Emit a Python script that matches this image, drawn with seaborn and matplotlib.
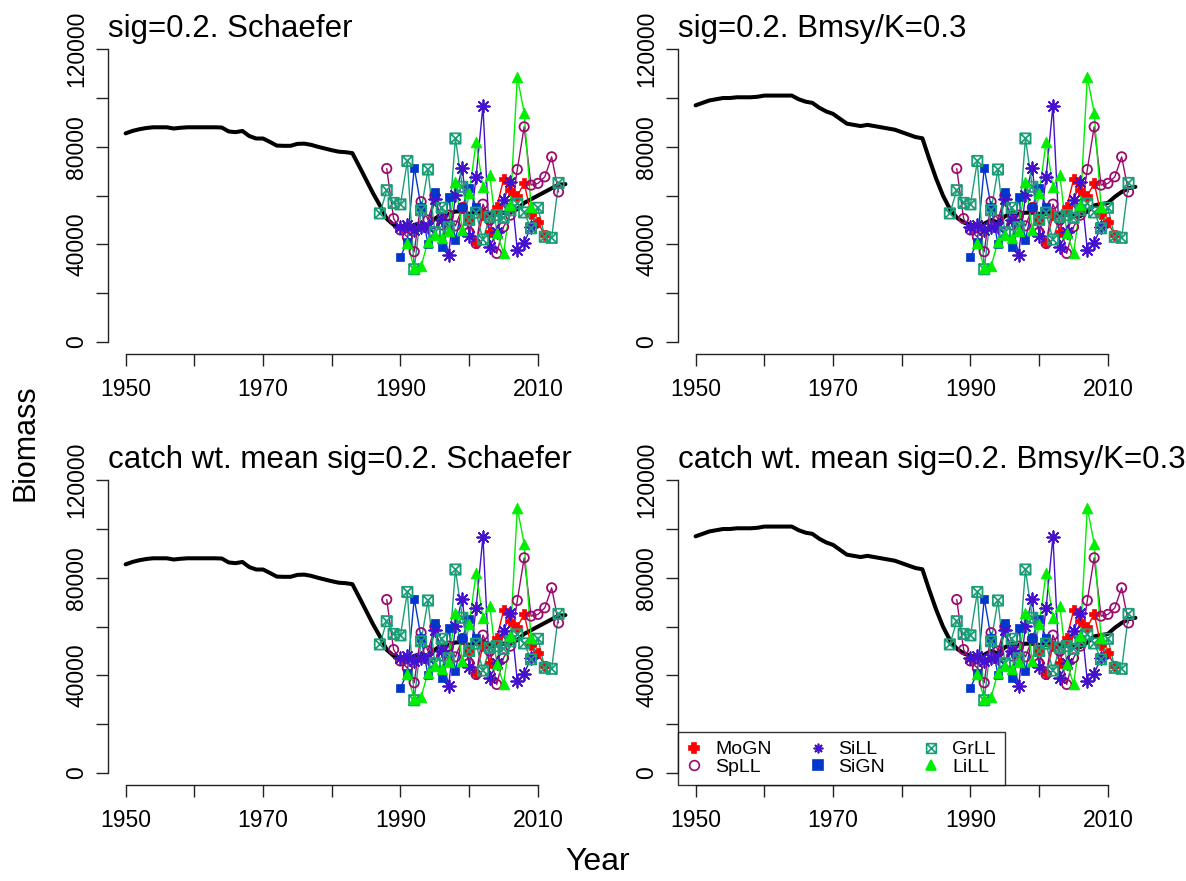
import numpy as np
import pandas as pd
import seaborn as sns
import matplotlib.pyplot as plt
from matplotlib.path import Path
from matplotlib.lines import Line2D

# biomass trajectories (thousands), 1950-2014
years = np.arange(1950, 2015)
biomass_schaefer = [
    85.5, 86.5, 87.2, 87.7, 88.0, 88.0, 88.0, 87.5, 87.8, 88.0,
    88.0, 88.0, 88.0, 88.0, 87.9, 86.3, 86.0, 86.5, 84.4, 83.4,
    83.4, 82.0, 80.5, 80.4, 80.4, 81.2, 81.3, 80.8, 80.0, 79.3,
    78.6, 78.0, 77.8, 77.4, 72.0, 66.5, 61.0, 56.0, 50.5, 48.0,
    47.0, 46.5, 48.0, 48.8, 47.5, 50.5, 52.5, 52.5, 53.5, 53.5,
    52.5, 53.0, 53.8, 52.8, 52.7, 53.0, 53.0, 54.5, 57.0, 58.5,
    60.0, 61.5, 63.0, 64.5, 64.7,
]
biomass_bmsy = [
    97.0, 98.0, 99.0, 99.5, 100.0, 100.0, 100.3, 100.3, 100.3, 100.5,
    101.0, 101.0, 101.0, 101.0, 101.0, 99.5, 98.5, 98.0, 96.0, 94.5,
    93.5, 91.5, 89.5, 89.0, 88.5, 89.0, 88.5, 88.0, 87.5, 87.0,
    86.0, 85.0, 84.0, 83.5, 75.0, 67.0, 60.0, 54.5, 51.0, 49.0,
    48.0, 47.5, 48.5, 50.0, 49.0, 51.5, 53.0, 52.5, 53.0, 53.0,
    52.5, 52.5, 53.0, 52.5, 52.0, 51.8, 51.6, 53.5, 56.0, 56.5,
    57.0, 59.5, 61.5, 63.0, 63.6,
]

# abundance indices (thousands)
mogn_years = list(range(1999, 2012))
mogn = [55.4, 50.0, 40.4, 52.0, 45.2, 55.2, 66.6, 62.5, 59.8, 65.2, 52.4, 49.0, 43.8]

spll_years = list(range(1988, 2014))
spll = [71.1, 50.6, 45.9, 43.0, 37.0, 57.5, 50.0, 60.0, 48.0, 52.0, 47.6, 55.0, 45.0,
        40.4, 56.5, 50.0, 36.3, 47.2, 52.0, 70.7, 88.2, 64.3, 65.0, 67.7, 75.9, 61.5]

sill_years = list(range(1990, 2010))
sill = [47.0, 47.9, 46.0, 47.0, 47.2, 58.8, 50.0, 35.6, 60.2, 71.5, 43.5, 67.7, 96.8,
        39.0, 45.0, 58.1, 65.6, 37.7, 40.7, 47.2]

sign_years = list(range(1990, 2002))
sign = [34.9, 41.1, 71.5, 55.4, 40.1, 61.5, 39.0, 59.3, 42.0, 55.4, 63.2, 55.4]

grll_years = list(range(1987, 2014))
grll = [52.7, 62.2, 57.0, 56.4, 74.2, 29.8, 54.0, 70.7, 45.0, 55.0, 47.0, 83.4, 63.6,
        50.0, 53.0, 42.0, 51.3, 52.0, 50.9, 54.0, 56.8, 53.1, 46.6, 55.0, 43.1, 42.7, 65.2]

lill_years = list(range(1991, 2010))
lill = [40.4, 30.2, 31.1, 41.1, 43.8, 42.5, 45.6, 65.6, 46.1, 60.9, 81.8, 63.6, 68.4,
        44.8, 36.6, 56.1, 108.6, 94.0, 55.4]

index_names = ['MoGN', 'SpLL', 'SiLL', 'SiGN', 'GrLL', 'LiLL']
index_years = [mogn_years, spll_years, sill_years, sign_years, grll_years, lill_years]
index_values = [mogn, spll, sill, sign, grll, lill]
index_colors = ['#FF0000', '#9B0A6E', '#4411CC', '#0036CC', '#1B9E77', '#00EE00']

titles = ['sig=0.2. Schaefer', 'sig=0.2. Bmsy/K=0.3',
          'catch wt. mean sig=0.2. Schaefer', 'catch wt. mean sig=0.2. Bmsy/K=0.3']
panel_biomass = [biomass_schaefer, biomass_bmsy, biomass_schaefer, biomass_bmsy]

#
# index table
#
df = pd.concat([
    pd.DataFrame({'year': y, 'value': np.array(v) * 1000, 'index': n})
    for n, y, v in zip(index_names, index_years, index_values)
])

# square with a cross, like R's pch=7
box_x = Path(
    [(-1, -1), (1, -1), (1, 1), (-1, 1), (-1, -1), (-1, -1), (1, 1), (-1, 1), (1, -1)],
    [Path.MOVETO, Path.LINETO, Path.LINETO, Path.LINETO, Path.CLOSEPOLY,
     Path.MOVETO, Path.LINETO, Path.MOVETO, Path.LINETO],
)
marker_styles = {
    'MoGN': dict(marker='P', s=42, filled=True),
    'SpLL': dict(marker='o', s=45, filled=False),
    'SiLL': dict(marker=(8, 2, 0), s=80, filled=None),
    'SiGN': dict(marker='s', s=40, filled=True),
    'GrLL': dict(marker=box_x, s=55, filled=False),
    'LiLL': dict(marker='^', s=60, filled=True),
}

sns.set_style('ticks')
plt.rcParams['font.family'] = ['Liberation Sans', 'DejaVu Sans']
plt.rcParams['text.color'] = 'black'
plt.rcParams['xtick.color'] = 'black'
plt.rcParams['ytick.color'] = 'black'

W, H = 1186, 881
fig = plt.figure(figsize=(W / 100, H / 100), dpi=100)
lefts = [108, 678, 108, 678]
bottoms = [353.7, 353.7, 784.7, 784.7]

for i in range(4):
    ax = fig.add_axes([lefts[i] / W, 1 - bottoms[i] / H, 475 / W, 316.2 / H])

    sns.lineplot(x=years, y=np.array(panel_biomass[i]) * 1000, ax=ax,
                 color='black', lw=2.9, estimator=None, sort=False)

    for name, color in zip(index_names, index_colors):
        sub = df[df['index'] == name]
        sns.lineplot(data=sub, x='year', y='value', ax=ax, color=color,
                     lw=1.0, estimator=None, sort=False)
        st = marker_styles[name]
        if st['filled'] is True:
            kw = dict(color=color, edgecolor=color, linewidth=0.5)
        elif st['filled'] is False:
            kw = dict(facecolor='none', edgecolor=color, linewidth=1.3)
        else:
            kw = dict(color=color, linewidth=1.3)
        sns.scatterplot(data=sub, x='year', y='value', ax=ax,
                        marker=st['marker'], s=st['s'], zorder=3, **kw)

    ax.set_xlim(1947.44, 2016.56)
    ax.set_ylim(-4800, 124800)
    ax.set_xticks(range(1950, 2011, 10))
    ax.set_xticklabels(['1950', '', '1970', '', '1990', '', '2010'])
    ax.set_yticks(range(0, 120001, 20000))
    ax.set_yticklabels(['0', '', '40000', '', '80000', '', '120000'],
                       rotation=90, va='center')
    ax.tick_params(axis='both', direction='out', length=8.6, width=1.0,
                   labelsize=16.5, color='#222222')
    ax.tick_params(axis='x', pad=9)
    ax.tick_params(axis='y', pad=5.5)
    ax.set_xlabel('')
    ax.set_ylabel('')
    ax.spines['top'].set_visible(False)
    ax.spines['right'].set_visible(False)
    ax.spines['left'].set_bounds(0, 120000)
    ax.spines['bottom'].set_bounds(1950, 2010)
    for side in ['left', 'bottom']:
        ax.spines[side].set_color('#222222')
        ax.spines[side].set_linewidth(1.0)

    ax.text(0, 1.003, titles[i], transform=ax.transAxes, ha='left',
            va='baseline', fontsize=22.5, clip_on=False)

    if i == 3:
        handles = []
        for name, color in zip(index_names, index_colors):
            st = marker_styles[name]
            face = color if st['filled'] is not False else 'none'
            handles.append(Line2D([], [], linestyle='none', marker=st['marker'],
                                  color=color, markerfacecolor=face,
                                  markeredgecolor=color, markersize=7,
                                  markeredgewidth=1.2))
        leg = ax.legend(handles, index_names, loc='lower left',
                        bbox_to_anchor=(0, 0), ncol=3, fontsize=14,
                        frameon=True, fancybox=False, edgecolor='black',
                        borderaxespad=0, borderpad=0.45, labelspacing=0.0,
                        handlelength=0.75, handletextpad=0.7,
                        columnspacing=2.0)
        leg.get_frame().set_linewidth(1.0)

fig.text(25 / W, 1 - 443 / H, 'Biomass', rotation=90, ha='center', va='center',
         fontsize=22)
fig.text(598 / W, 1 - 862 / H, 'Year', ha='center', va='center', fontsize=23)

fig.savefig('out.png', dpi=100)
